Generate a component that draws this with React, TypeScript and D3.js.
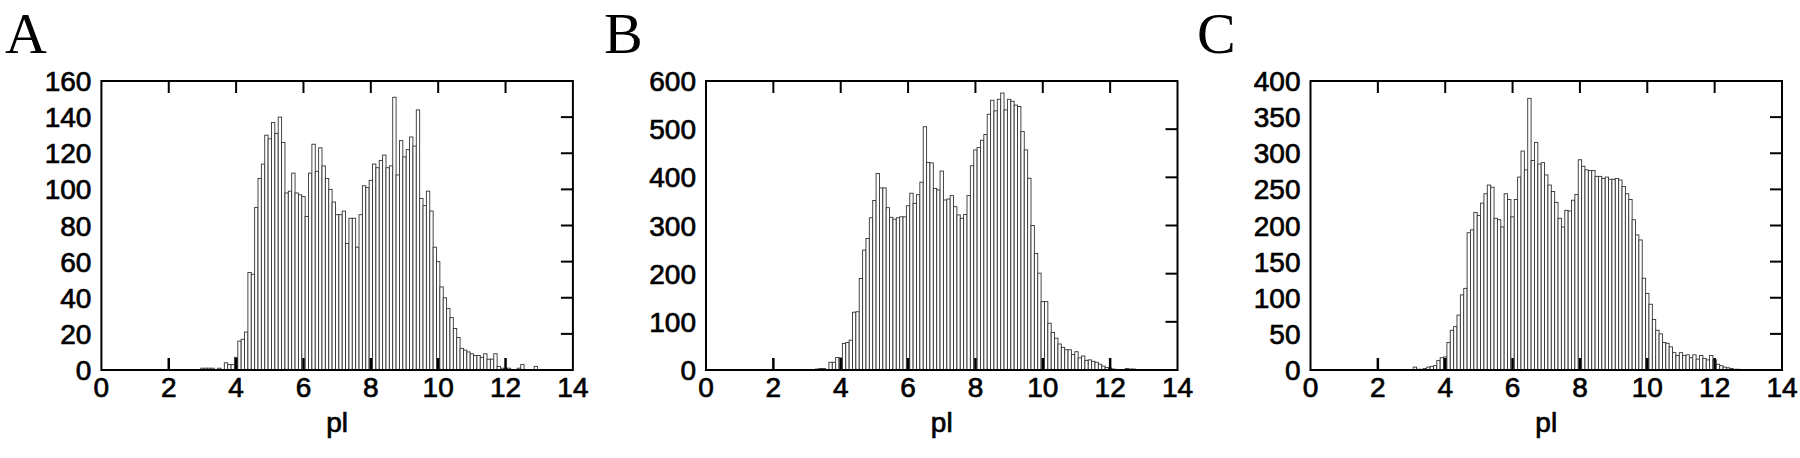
import React from "react";
import * as d3 from "d3";

// bin centres (pI), shared by the three histograms
const pI = [
  3.0, 3.1, 3.2, 3.3, 3.4, 3.5, 3.6, 3.7, 3.8, 3.9,
  4.0, 4.1, 4.2, 4.3, 4.4, 4.5, 4.6, 4.7, 4.8, 4.9,
  5.0, 5.1, 5.2, 5.3, 5.4, 5.5, 5.6, 5.7, 5.8, 5.9,
  6.0, 6.1, 6.2, 6.3, 6.4, 6.5, 6.6, 6.7, 6.8, 6.9,
  7.0, 7.1, 7.2, 7.3, 7.4, 7.5, 7.6, 7.7, 7.8, 7.9,
  8.0, 8.1, 8.2, 8.3, 8.4, 8.5, 8.6, 8.7, 8.8, 8.9,
  9.0, 9.1, 9.2, 9.3, 9.4, 9.5, 9.6, 9.7, 9.8, 9.9,
  10.0, 10.1, 10.2, 10.3, 10.4, 10.5, 10.6, 10.7, 10.8, 10.9,
  11.0, 11.1, 11.2, 11.3, 11.4, 11.5, 11.6, 11.7, 11.8, 11.9,
  12.0, 12.1, 12.2, 12.3, 12.4, 12.5, 12.6, 12.7, 12.8, 12.9,
  13.0,
];

const countsA = [
  1, 1, 1, 1, 0, 1, 0, 4, 3, 3,
  7, 16, 17, 21, 54, 53, 90, 106, 114, 130,
  128, 137, 131, 140, 126, 98, 99, 109, 98, 97,
  96, 85, 109, 125, 110, 123, 113, 106, 100, 93,
  86, 86, 88, 70, 84, 84, 68, 86, 102, 101,
  105, 114, 112, 116, 119, 112, 113, 151, 108, 127,
  118, 122, 129, 124, 144, 95, 91, 99, 88, 68,
  60, 46, 40, 34, 29, 23, 18, 12, 11, 10,
  9, 8, 8, 7, 9, 6, 6, 9, 2, 1,
  1, 1, 0, 0, 1, 3, 0, 0, 0, 2,
  0,
];

const countsB = [
  0, 1, 1, 2, 3, 3, 1, 16, 16, 26,
  25, 55, 57, 62, 120, 121, 190, 249, 273, 316,
  352, 408, 378, 378, 337, 317, 313, 316, 318, 318,
  341, 367, 346, 364, 390, 505, 431, 430, 377, 374,
  413, 353, 355, 362, 339, 322, 315, 323, 362, 424,
  457, 462, 477, 489, 531, 560, 538, 562, 575, 540,
  562, 558, 550, 547, 495, 457, 398, 300, 242, 201,
  142, 142, 97, 78, 66, 54, 47, 42, 42, 32,
  38, 25, 29, 20, 21, 18, 16, 12, 8, 5,
  4, 2, 1, 0, 1, 3, 2, 2, 0, 0,
  1,
];

const countsC = [
  0, 4, 1, 1, 2, 4, 5, 6, 13, 17,
  18, 38, 55, 60, 76, 104, 113, 190, 194, 218,
  214, 231, 244, 256, 253, 210, 208, 198, 244, 236,
  212, 236, 267, 303, 277, 376, 290, 315, 285, 287,
  270, 256, 247, 232, 210, 198, 221, 220, 235, 243,
  291, 282, 277, 276, 276, 268, 268, 265, 267, 264,
  264, 265, 263, 254, 244, 236, 208, 187, 180, 127,
  106, 91, 70, 55, 50, 38, 37, 32, 24, 20,
  24, 20, 21, 17, 21, 15, 20, 16, 14, 20,
  14, 8, 6, 4, 3, 2, 1, 1, 0, 0,
  0,
];

const xTicks = [0, 2, 4, 6, 8, 10, 12, 14];
const yTicksA = [0, 20, 40, 60, 80, 100, 120, 140, 160];
const yTicksB = [0, 100, 200, 300, 400, 500, 600];
const yTicksC = [0, 50, 100, 150, 200, 250, 300, 350, 400];

const panels = [
  { letter: "A", counts: countsA, yTicks: yTicksA, left: 101.4, letterX: 5 },
  { letter: "B", counts: countsB, yTicks: yTicksB, left: 706, letterX: 604 },
  { letter: "C", counts: countsC, yTicks: yTicksC, left: 1310.5, letterX: 1197 },
];

const TOP = 81;
const BOTTOM = 370;
const PLOT_W = 471.5;
const TICK = 12;
const labelFont = "'Liberation Sans', Arial, sans-serif";

function Panel({ letter, counts, yTicks, left, letterX }: any) {
  const x = d3.scaleLinear().domain([0, 14]).range([left, left + PLOT_W]);
  const y = d3
    .scaleLinear()
    .domain([0, yTicks[yTicks.length - 1]])
    .range([BOTTOM, TOP]);
  const half = 0.05;

  return (
    <g>
      <text
        x={letterX}
        y={53}
        fontFamily="'Liberation Serif', 'Times New Roman', serif"
        fontSize={58}
        fill="#000"
      >
        {letter}
      </text>

      {/* histogram boxes */}
      {counts.map((c: number, i: number) =>
        c > 0 ? (
          <rect
            key={i}
            x={x(pI[i] - half)}
            width={x(pI[i] + half) - x(pI[i] - half)}
            y={y(c)}
            height={y(0) - y(c)}
            fill="#fff"
            stroke="#333"
            strokeWidth={0.9}
          />
        ) : null
      )}

      {/* x ticks, top and bottom, inward */}
      {xTicks
        .filter((t) => t > 0 && t < 14)
        .map((t) => (
          <g key={"xt" + t}>
            <line x1={x(t)} x2={x(t)} y1={BOTTOM} y2={BOTTOM - TICK} stroke="#000" strokeWidth={2.5} />
            <line x1={x(t)} x2={x(t)} y1={TOP} y2={TOP + TICK} stroke="#000" strokeWidth={2} />
          </g>
        ))}

      {/* y ticks on the right side, inward */}
      {yTicks
        .filter((t: number, i: number) => i > 0 && i < yTicks.length - 1)
        .map((t: number) => (
          <line
            key={"yt" + t}
            x1={left + PLOT_W}
            x2={left + PLOT_W - TICK}
            y1={y(t)}
            y2={y(t)}
            stroke="#000"
            strokeWidth={2}
          />
        ))}

      <rect
        x={left}
        y={TOP}
        width={PLOT_W}
        height={BOTTOM - TOP}
        fill="none"
        stroke="#000"
        strokeWidth={2}
      />

      {xTicks.map((t) => (
        <text
          key={"xl" + t}
          x={x(t)}
          y={BOTTOM + 27}
          textAnchor="middle"
          fontFamily={labelFont}
          fontSize={28}
          fill="#000"
          stroke="#000"
          strokeWidth={0.7}
        >
          {t}
        </text>
      ))}

      {yTicks.map((t: number) => (
        <text
          key={"yl" + t}
          x={left - 10}
          y={y(t)}
          dy="0.36em"
          textAnchor="end"
          fontFamily={labelFont}
          fontSize={28}
          fill="#000"
          stroke="#000"
          strokeWidth={0.7}
        >
          {t}
        </text>
      ))}

      <text
        x={left + PLOT_W / 2}
        y={432}
        textAnchor="middle"
        fontFamily={labelFont}
        fontSize={28}
        fill="#000"
        stroke="#000"
        strokeWidth={0.7}
      >
        pl
      </text>
    </g>
  );
}

export default function App() {
  return (
    <svg
      width={1800}
      height={458}
      style={{ position: "absolute", left: 0, top: 0, background: "#fff" }}
    >
      <rect width={1800} height={458} fill="#fff" />
      {panels.map((p) => (
        <Panel key={p.letter} {...p} />
      ))}
    </svg>
  );
}
